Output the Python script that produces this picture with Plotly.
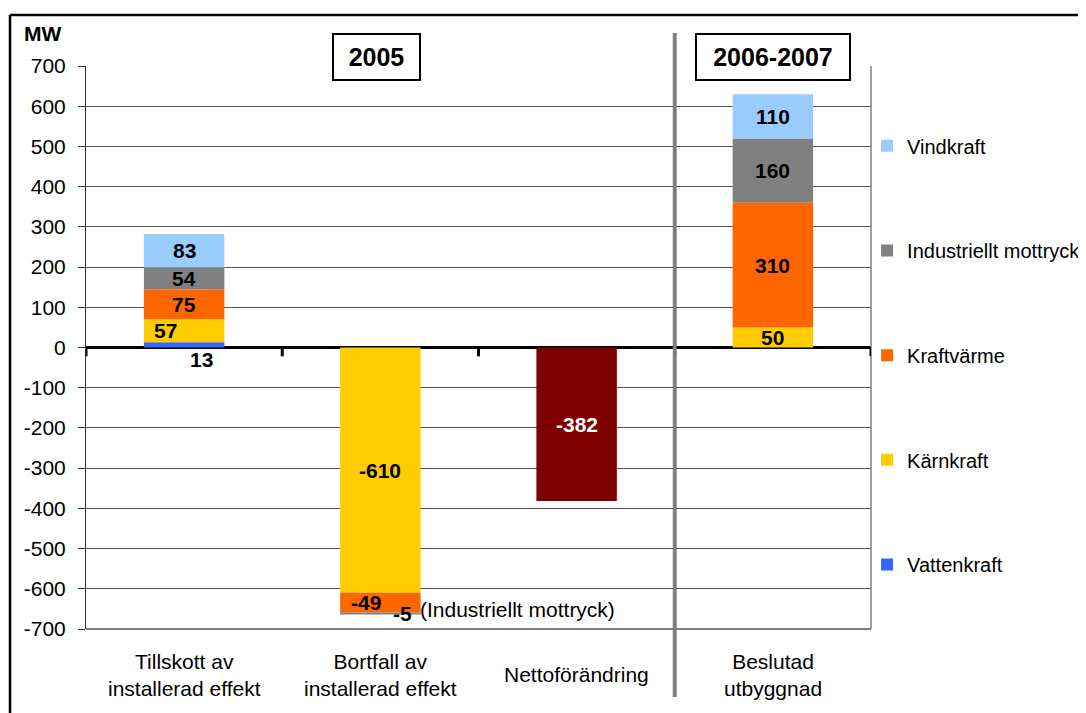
import plotly.graph_objects as go

# ---------------- data ----------------
categories = ["Tillskott av<br>installerad effekt", "Bortfall av<br>installerad effekt",
              "Nettoförändring", "Beslutad<br>utbyggnad"]
vattenkraft = [13, None, None, None]
karnkraft = [57, -610, None, 50]
kraftvarme = [75, -49, None, 310]
industriellt = [54, -5, None, 160]
vindkraft = [83, None, None, 110]
netto = [None, None, -382, None]
y_ticks = list(range(-700, 701, 100))
period_labels = ["2005", "2006-2007"]
side_note = "(Industriellt mottryck)"

series = [
    ("Vattenkraft", vattenkraft, "#3366FF", True),
    ("Kärnkraft", karnkraft, "#FFCC00", True),
    ("Kraftvärme", kraftvarme, "#FF6600", True),
    ("Industriellt mottryck", industriellt, "#808080", True),
    ("Vindkraft", vindkraft, "#99CCFF", True),
    ("Nettoförändring", netto, "#800000", False),
]

FONT = "Liberation Sans, Arial, sans-serif"
xs = list(range(len(categories)))

fig = go.Figure()
for k, (name, vals, color, legend) in enumerate(series):
    fig.add_trace(go.Bar(
        x=xs, y=vals, name=name, marker=dict(color=color, line=dict(width=0)),
        showlegend=legend, legendgroup=name, legendrank=100 - k, width=0.41,
        hoverinfo="name+y",
    ))

# ---------------- data labels ----------------
special = {
    ("Vattenkraft", 0): dict(xshift=17, yshift=-15),
    ("Kärnkraft", 0): dict(xshift=-19),
    ("Kraftvärme", 1): dict(xshift=-14),
    ("Industriellt mottryck", 1): dict(xshift=22),
}
annotations = []
pos_base = [0.0] * len(xs)
neg_base = [0.0] * len(xs)
for name, vals, color, legend in series:
    for i, v in enumerate(vals):
        if v is None:
            continue
        if v >= 0:
            center = pos_base[i] + v / 2
            pos_base[i] += v
        else:
            center = neg_base[i] + v / 2
            neg_base[i] += v
        extra = special.get((name, i), {})
        annotations.append(dict(
            x=i, y=center, xref="x", yref="y", text=f"<b>{v}</b>", showarrow=False,
            font=dict(family=FONT, size=21, color="white" if name == "Nettoförändring" else "black"),
            xanchor="center", yanchor="middle", **extra,
        ))
        if name == "Industriellt mottryck" and i == 1:
            annotations.append(dict(
                x=i, y=center, xref="x", yref="y", text=side_note, showarrow=False,
                font=dict(family=FONT, size=21, color="black"),
                xanchor="left", yanchor="middle", xshift=38, yshift=4,
            ))

# category labels
for i, c in enumerate(categories):
    annotations.append(dict(
        x=i, y=-0.0817, xref="x", yref="paper", text=c, showarrow=False,
        font=dict(family=FONT, size=21, color="black"), xanchor="center", yanchor="middle",
    ))

# period boxes
annotations.append(dict(
    x=0.98, y=1.016, xref="x", yref="paper", text=f"<b>{period_labels[0]}</b>", showarrow=False,
    font=dict(family=FONT, size=25, color="black"), bgcolor="white", bordercolor="black",
    borderwidth=2, borderpad=0, width=85, height=44, xanchor="center", yanchor="middle",
))
annotations.append(dict(
    x=3.0, y=1.016, xref="x", yref="paper", text=f"<b>{period_labels[1]}</b>", showarrow=False,
    font=dict(family=FONT, size=25, color="black"), bgcolor="white", bordercolor="black",
    borderwidth=2, borderpad=0, width=152, height=44, xanchor="center", yanchor="middle",
))
# unit label
annotations.append(dict(
    x=-0.0815, y=1.057, xref="paper", yref="paper", text="<b>MW</b>", showarrow=False,
    font=dict(family=FONT, size=21, color="black"), xanchor="left", yanchor="middle",
))

# ---------------- shapes ----------------
shapes = []
# outer chart frame
shapes.append(dict(type="line", xref="paper", yref="paper", x0=-0.0968, x1=-0.0968, y0=1.0906, y1=-0.2,
                   line=dict(color="black", width=2.5)))
shapes.append(dict(type="line", xref="paper", yref="paper", x0=-0.0968, x1=1.3, y0=1.0906, y1=1.0906,
                   line=dict(color="black", width=2.5)))
# plot area border (right and bottom)
shapes.append(dict(type="line", xref="paper", yref="paper", x0=1, x1=1, y0=0, y1=1,
                   line=dict(color="#808080", width=1.5)))
shapes.append(dict(type="line", xref="paper", yref="paper", x0=0, x1=1, y0=0, y1=0,
                   line=dict(color="#808080", width=2)))
# category axis tick marks along zero
for b in [-0.5, 0.5, 1.5, 2.5, 3.5]:
    shapes.append(dict(type="line", xref="x", yref="y", x0=b, x1=b, y0=0, y1=-22,
                       line=dict(color="black", width=3)))
# separator
shapes.append(dict(type="line", xref="x", yref="paper", x0=2.5, x1=2.5, y0=-0.1208, y1=1.0586,
                   line=dict(color="#808080", width=4)))

fig.update_layout(
    width=1086, height=713,
    margin=dict(l=78, r=223, t=58, b=92, autoexpand=False),
    paper_bgcolor="white", plot_bgcolor="white",
    barmode="relative",
    font=dict(family=FONT, size=21, color="black"),
    showlegend=True,
    legend=dict(
        x=0.995, y=0.893, xanchor="left", yanchor="top",
        traceorder="grouped", tracegroupgap=75.7,
        font=dict(family=FONT, size=20, color="black"),
        bgcolor="rgba(0,0,0,0)", itemclick=False,
    ),
    xaxis=dict(range=[-0.5, 3.5], showticklabels=False, showgrid=False, zeroline=False,
               showline=False, ticks="", fixedrange=True),
    yaxis=dict(range=[-700, 700], tickvals=y_ticks, ticktext=[str(t) for t in y_ticks],
               showgrid=True, gridcolor="#555555", gridwidth=1,
               zeroline=True, zerolinecolor="black", zerolinewidth=3,
               showline=True, linecolor="#333333", linewidth=1,
               ticks="outside", ticklen=7, tickcolor="#333333",
               ticklabelstandoff=8,
               tickfont=dict(family=FONT, size=21, color="black"), fixedrange=True),
    annotations=annotations,
    shapes=shapes,
)

fig.write_html("out.html")
